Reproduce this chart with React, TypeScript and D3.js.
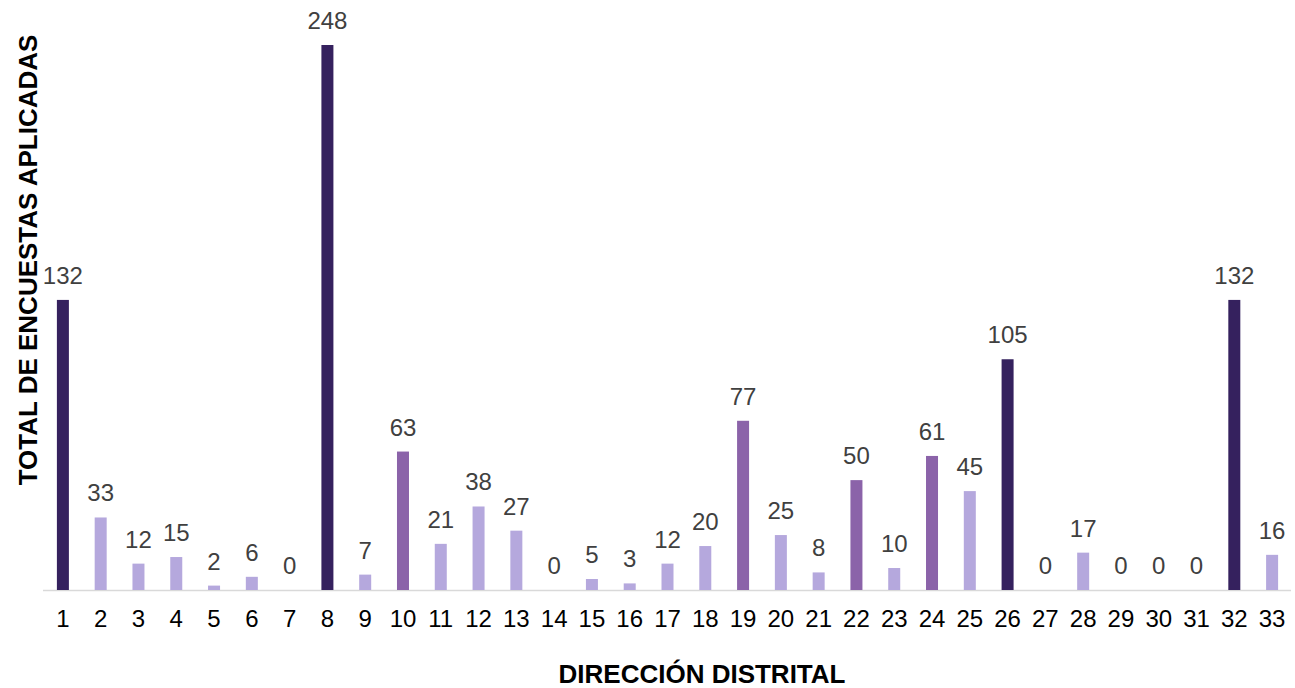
import React from "react";
import * as d3 from "d3";

const categories: string[] = Array.from({ length: 33 }, (_, i) => String(i + 1));
const values: number[] = [132, 33, 12, 15, 2, 6, 0, 248, 7, 63, 21, 38, 27, 0, 5, 3, 12, 20, 77, 25, 8, 50, 10, 61, 45, 105, 0, 17, 0, 0, 0, 132, 16];
const yTitle = "TOTAL DE ENCUESTAS APLICADAS";
const xTitle = "DIRECCIÓN DISTRITAL";

const W = 1295;
const H = 688;
const baseY = 590;
const topY = 45;

function colorFor(v: number): string {
  if (v >= 100) return "#35215e";
  if (v >= 50) return "#8b63a9";
  return "#b5a8dd";
}

export default function App() {
  const x = d3.scaleBand<string>().domain(categories).range([44, 1291]).paddingInner(0).paddingOuter(0);
  const y = d3.scaleLinear().domain([0, 248]).range([baseY, topY]);
  const bw = 12;
  const font = "Arial, 'Liberation Sans', sans-serif";
  return (
    <svg width={W} height={H} style={{ position: "absolute", left: 0, top: 0 }} fontFamily={font}>
      <rect width={W} height={H} fill="#fff" />
      <line x1={43} x2={1291} y1={baseY + 0.5} y2={baseY + 0.5} stroke="#d9d9d9" strokeWidth={1.5} />
      {categories.map((c, i) => {
        const cx = (x(c) as number) + x.bandwidth() / 2;
        const v = values[i];
        const yt = y(v);
        return (
          <g key={c}>
            {v > 0 && <rect x={cx - bw / 2} y={yt} width={bw} height={baseY - yt} fill={colorFor(v)} />}
            <text x={cx} y={yt - 16} textAnchor="middle" fontSize={24} fill="#404040">{v}</text>
            <text x={cx} y={627} textAnchor="middle" fontSize={24} fill="#000">{c}</text>
          </g>
        );
      })}
      <text x={702} y={683} textAnchor="middle" fontSize={26} fontWeight="bold" fill="#000">{xTitle}</text>
      <text transform="translate(37,260) rotate(-90)" textAnchor="middle" fontSize={26} fontWeight="bold" fill="#000">{yTitle}</text>
    </svg>
  );
}
